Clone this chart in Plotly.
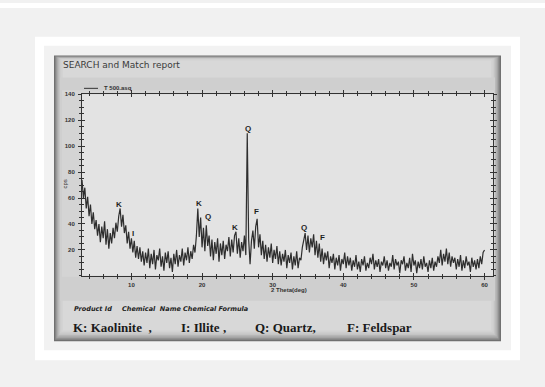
import plotly.graph_objects as go

W, H = 545, 387

# ---- data ----
start_2theta = 3.0
step_2theta = 0.2
cps = [
    74, 60, 68, 52, 61, 46, 55, 40, 49, 36,   # 3.0 - 4.8
    43, 31, 40, 26, 38, 29, 42, 24, 36, 21,   # 5.0 - 6.8
    33, 25, 37, 29, 41, 34, 46, 52, 38, 47,   # 7.0 - 8.8
    33, 39, 25, 34, 21, 29, 18, 27, 14, 23,   # 9.0 - 10.8
    13, 22, 11, 19, 8, 18, 10, 21, 6, 17,     # 11.0 - 12.8
    9, 20, 5, 16, 12, 21, 7, 15, 4, 18,       # 13.0 - 14.8
    10, 19, 6, 14, 3, 17, 9, 20, 7, 16,       # 15.0 - 16.8
    11, 21, 8, 18, 12, 22, 10, 19, 13, 24,    # 17.0 - 18.8
    18, 31, 52, 30, 45, 22, 37, 19, 39, 23,   # 19.0 - 20.8
    31, 15, 28, 12, 26, 17, 29, 11, 25, 16,   # 21.0 - 22.8
    27, 13, 24, 19, 30, 15, 28, 18, 31, 34,   # 23.0 - 24.8
    17, 29, 14, 26, 19, 31, 16, 110, 28, 9,   # 25.0 - 26.8
    27, 35, 21, 38, 44, 22, 32, 16, 27, 13,   # 27.0 - 28.8
    24, 11, 22, 14, 25, 10, 20, 13, 23, 9,    # 29.0 - 30.8
    19, 8, 17, 11, 20, 6, 16, 10, 18, 5,      # 31.0 - 32.8
    15, 8, 19, 6, 14, 12, 22, 28, 33, 20,     # 33.0 - 34.8
    31, 18, 29, 22, 32, 16, 27, 14, 25, 11,   # 35.0 - 36.8
    21, 9, 18, 12, 19, 6, 15, 10, 17, 5,      # 37.0 - 38.8
    14, 8, 16, 4, 13, 9, 18, 6, 15, 8,        # 39.0 - 40.8
    14, 4, 12, 7, 16, 5, 11, 3, 13, 8,        # 41.0 - 42.8
    15, 4, 10, 6, 14, 9, 17, 5, 12, 7,        # 43.0 - 44.8
    13, 3, 11, 8, 15, 6, 12, 4, 10, 7,        # 45.0 - 46.8
    16, 5, 13, 8, 11, 2, 12, 9, 15, 4,        # 47.0 - 48.8
    10, 6, 14, 3, 17, 8, 12, 2, 11, 6,        # 49.0 - 50.8
    13, 5, 15, 7, 10, 3, 12, 6, 14, 4,        # 51.0 - 52.8
    11, 7, 15, 10, 20, 8, 17, 11, 21, 9,      # 53.0 - 54.8
    18, 7, 15, 10, 14, 5, 13, 7, 16, 4,       # 55.0 - 56.8
    12, 6, 15, 8, 11, 3, 14, 7, 12, 5,        # 57.0 - 58.8
    13, 6, 15, 9, 18, 20,                     # 59.0 - 60.0
]
two_theta = [round(start_2theta + step_2theta * i, 2) for i in range(len(cps))]

peak_labels = ["K", "I", "K", "Q", "K", "Q", "F", "Q", "F"]
peak_x = [8.3, 10.2, 19.5, 20.8, 24.6, 26.45, 27.7, 34.5, 37.0]
peak_y = [55.3, 32.4, 55.9, 45.9, 37.5, 114, 49.5, 37.5, 29.3]

y_ticks = [20, 40, 60, 80, 100, 120, 140]
x_ticks = [10, 20, 30, 40, 50, 60]

legend_items = ["K: Kaolinite  ,", "I: Illite ,", "Q: Quartz,", "F: Feldspar"]
legend_x_px = [71, 179, 253, 345]


def px(x):
    return x / W


def py(y):
    return 1 - y / H


def rect(x0, y0, x1, y1, color):
    return dict(type="rect", xref="paper", yref="paper",
                x0=px(x0), x1=px(x1), y0=py(y1), y1=py(y0),
                fillcolor=color, line=dict(width=0), layer="below")


shapes = [
    rect(0, 0, W, 5, "#ffffff"),
    rect(35, 34, 520, 360, "#ffffff"),
    rect(44, 43, 511, 350, "#f2f2f2"),
]
# scanned sheet with darker shaded edges
shade = ["#707070", "#8c8c8c", "#a4a4a4", "#b6b6b6", "#c4c4c4", "#cdcdcd", "#d3d3d3"]
for i, c in enumerate(shade):
    shapes.append(rect(54 + i * 1.2, 53 + i * 0.6, 501 - i * 1.4, 341 - i * 1.6, c))
shapes.append(rect(63, 58, 491, 330, "#d8d8d8"))
# speckled scan band
shapes.append(rect(60, 75, 495, 300, "#cfcfcf"))
shapes.append(rect(62, 88, 494, 92, "#d6d6d6"))
shapes.append(rect(62, 92, 82, 276, "#d4d4d4"))
shapes.append(rect(82, 92, 493, 275, "#e3e3e3"))
# legend line
shapes.append(dict(type="line", xref="paper", yref="paper",
                   x0=px(84), x1=px(98), y0=py(86), y1=py(86),
                   line=dict(color="#333333", width=1)))

fig = go.Figure()
fig.add_trace(go.Scatter(
    x=two_theta, y=cps, mode="lines",
    line=dict(color="#2e2e2e", width=1.2),
    showlegend=False, hoverinfo="skip",
))
fig.add_trace(go.Scatter(
    x=[two_theta[0]], y=[cps[0]], mode="markers", marker=dict(opacity=0),
    xaxis="x2", yaxis="y2", showlegend=False, hoverinfo="skip",
))

tickfont = dict(family="Liberation Sans", size=6, color="#333333", weight="bold")
dom_x = [px(82), px(493)]
dom_y = [py(275), py(92)]

common_x = dict(domain=dom_x, range=[3, 61.2], showgrid=False, zeroline=False,
                showline=True, linecolor="#333333", linewidth=1,
                tickcolor="#333333", tickwidth=1, ticklen=3,
                tickvals=x_ticks, mirror="ticks")
common_y = dict(domain=dom_y, range=[0, 140], showgrid=False, zeroline=False,
                showline=True, linecolor="#333333", linewidth=1,
                tickcolor="#333333", tickwidth=1, ticklen=3,
                tickvals=y_ticks, mirror="ticks")

annotations = []
for lab, xv, yv in zip(peak_labels, peak_x, peak_y):
    annotations.append(dict(x=xv, y=yv, xref="x", yref="y", text=lab, showarrow=False,
                            font=dict(family="Liberation Sans", size=8, color="#1e1e1e",
                                      weight="bold")))
annotations += [
    dict(x=px(61), y=py(62), xref="paper", yref="paper", text="SEARCH and Match report",
         showarrow=False, xanchor="left", yanchor="middle",
         font=dict(family="DejaVu Sans", size=9, color="#3a3a3a")),
    dict(x=px(102), y=py(86), xref="paper", yref="paper", text="T 500.asq",
         showarrow=False, xanchor="left", yanchor="middle",
         font=dict(family="Liberation Sans", size=6, color="#333333", weight="bold")),
    dict(x=px(60), y=py(183), xref="paper", yref="paper", text="cps", textangle=-90,
         showarrow=False, font=dict(family="Liberation Sans", size=6, color="#333333")),
    dict(x=px(289), y=py(294), xref="paper", yref="paper", text="2 Theta(deg)",
         showarrow=False, font=dict(family="Liberation Sans", size=6, color="#333333",
                                    weight="bold")),
    dict(x=px(72), y=py(308), xref="paper", yref="paper", text="<i>Product Id</i>",
         showarrow=False, xanchor="left", yanchor="middle",
         font=dict(family="DejaVu Sans", size=6.5, color="#222222", weight="bold")),
    dict(x=px(120), y=py(308), xref="paper", yref="paper",
         text="<i>Chemical  Name Chemical Formula</i>",
         showarrow=False, xanchor="left", yanchor="middle",
         font=dict(family="DejaVu Sans", size=6.5, color="#222222", weight="bold")),
]
for txt, xp in zip(legend_items, legend_x_px):
    annotations.append(dict(x=px(xp), y=py(327), xref="paper", yref="paper", text=txt,
                            showarrow=False, xanchor="left", yanchor="middle",
                            font=dict(family="Liberation Serif", size=13, color="#1a1a1a",
                                      weight="bold")))

fig.update_layout(
    width=W, height=H, margin=dict(l=0, r=0, t=0, b=0),
    paper_bgcolor="#f1f1f1", plot_bgcolor="rgba(0,0,0,0)",
    showlegend=False, shapes=shapes, annotations=annotations,
    xaxis=dict(**common_x, ticks="outside", tickfont=tickfont, anchor="y",
               minor=dict(dtick=2, ticklen=2, ticks="outside", tickcolor="#333333")),
    yaxis=dict(**common_y, ticks="outside", tickfont=tickfont, anchor="x",
               ticklabelstandoff=2,
               minor=dict(dtick=5, ticklen=2, ticks="outside", tickcolor="#333333")),
    xaxis2=dict(**common_x, ticks="inside", showticklabels=False, overlaying="x",
                matches="x", anchor="y2",
                minor=dict(dtick=2, ticklen=2, ticks="inside", tickcolor="#333333")),
    yaxis2=dict(**common_y, ticks="inside", showticklabels=False, overlaying="y",
                matches="y", anchor="x2",
                minor=dict(dtick=5, ticklen=2, ticks="inside", tickcolor="#333333")),
)

fig.write_html("out.html")
